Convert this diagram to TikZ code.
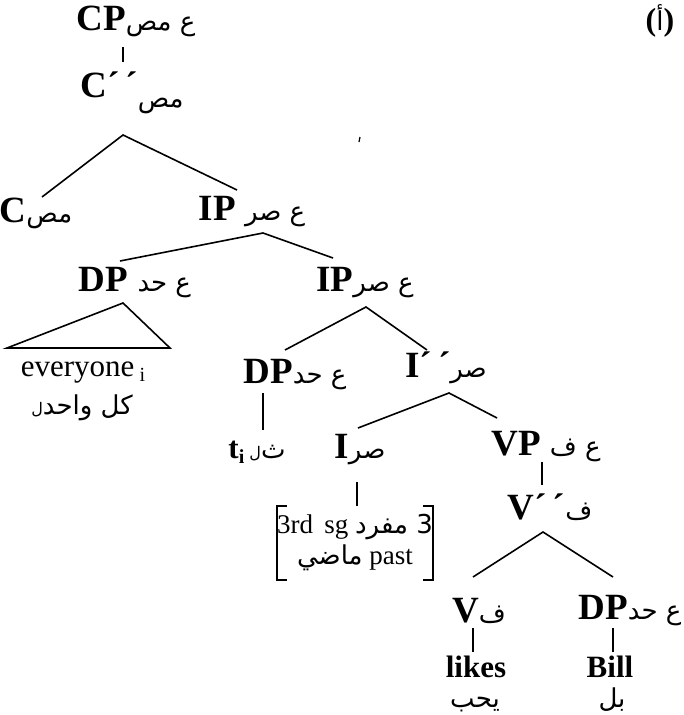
\documentclass[tikz,border=0pt]{standalone}
\usepackage{fontspec}
\setmainfont{Liberation Serif}
\newfontfamily\arabicfont[Script=Arabic]{DejaVu Sans}
\TeXXeTstate=1
\usetikzlibrary{positioning}
\newcommand{\ar}[1]{{\arabicfont\mdseries\fontsize{26}{27}\selectfont\beginR #1\endR}}
\newcommand{\arsub}[1]{\hbox{\arabicfont\mdseries\fontsize{16}{16}\selectfont #1}}
\newcommand{\lowsub}[1]{\raisebox{-5pt}{\fontsize{20}{20}\selectfont #1}}

\begin{document}
\begin{tikzpicture}[
  x=1pt, y=-1pt,
  cat/.style={font=\fontsize{37}{39}\selectfont\bfseries, inner sep=0pt, anchor=center},
  leaf/.style={font=\fontsize{31}{33}\selectfont\bfseries, inner sep=0pt, anchor=center},
  gloss/.style={inner sep=0pt, anchor=base},
  feature/.style={font=\fontsize{27}{31}\selectfont, align=center, inner sep=0pt, minimum width=150pt, minimum height=74pt},
  branch/.style={line width=1.6pt}
]
  \useasboundingbox (0,0) rectangle (683,715);

  % category labels
  \node[cat] (cp) at (136,21) {CP\ar{ع مص}};
  \node[cat] (cbar) at (132,93) {C´\,´\raisebox{-10pt}{\ar{مص}}};
  \node[cat] (c) at (36,213) {C\ar{مص}};
  \node[cat] (ip1) at (252,212) {IP \ar{ع صر}};
  \node[cat] (dp1) at (135,283) {DP \ar{ع حد}};
  \node[cat] (ip2) at (365,283) {IP\ar{ع صر}};
  \node[cat] (dp2) at (295,375) {DP\ar{ع حد}};
  \node[cat] (ibar) at (446,368) {I´\,´\ar{صر}};
  \node[cat] (i) at (360,450) {I\ar{صر}};
  \node[cat] (vp) at (546,447) {VP \ar{ع ف}};
  \node[cat] (vbar) at (550,507) {V´\,´\ar{ف}};
  \node[cat] (v) at (479,611) {V\ar{ف}};
  \node[cat] (dp3) at (630,611) {DP\ar{ع حد}};
  \node[font=\fontsize{32}{34}\selectfont\bfseries, inner sep=0pt] (num) at (660,21) {(\ar{أ})};

  % leaves and glosses
  \node[font=\fontsize{31}{32}\selectfont, inner sep=0pt] (every) at (83,373) {everyone\,\lowsub{i}};
  \node[gloss, anchor=center] (everyg) at (82,408) {\ar{كل واحد\arsub{ل}}};
  \node[leaf] (t) at (257,452) {t\lowsub{i}\,\ar{ث\arsub{ل}}};
  \node[feature] (feat) at (355,543) {3rd\ \,sg\ \ar{3 مفرد}\\ \ar{ماضي} past};
  \node[leaf] (likes) at (476,667) {likes};
  \node[gloss] (likesg) at (475,707) {\ar{يحب}};
  \node[leaf] (bill) at (610,667) {Bill};
  \node[gloss] (billg) at (612,707) {\ar{بل}};

  % branches
  \draw[branch] ([shift={(-13,26)}]cp.center) -- ([shift={(-9,-31)}]cbar.center);
  \draw[branch] ([shift={(6,-16)}]c.center) -- ([shift={(-9,42)}]cbar.center) -- ([shift={(-15,-22)}]ip1.center);
  \draw[branch] ([shift={(-15,-22)}]dp1.center) -- ([shift={(11,21)}]ip1.center) -- ([shift={(-32,-25)}]ip2.center);
  \draw[branch] ([shift={(-10,-25)}]dp2.center) -- ([shift={(1,24)}]ip2.center) -- ([shift={(-19,-18)}]ibar.center);
  \draw[branch] ([shift={(-2,-22)}]i.center) -- ([shift={(3,25)}]ibar.center) -- ([shift={(-49,-29)}]vp.center);
  \draw[branch] ([shift={(-6,-34)}]v.center) -- ([shift={(-7,25)}]vbar.center) -- ([shift={(-17,-34)}]dp3.center);
  \draw[branch] ([shift={(-32,18)}]dp2.center) -- ([shift={(6,-22)}]t.center);
  \draw[branch] ([shift={(-3,32)}]i.center) -- ([xshift=2pt]feat.north);
  \draw[branch] ([shift={(-4,15)}]vp.center) -- ([shift={(-8,-22)}]vbar.center);
  \draw[branch] ([shift={(-6,17)}]v.center) -- ([shift={(-3,-15)}]likes.center);
  \draw[branch] ([shift={(-17,17)}]dp3.center) -- ([shift={(3,-15)}]bill.center);

  % triangle over everyone
  \draw[branch, line join=miter] ([shift={(-12,20)}]dp1.center) -- ([shift={(-76,-25)}]every.center) -- ([shift={(87,-25)}]every.center) -- cycle;

  % brackets round the features
  \draw[branch] ([xshift=10pt]feat.north west) -- (feat.north west) -- (feat.south west) -- ([xshift=10pt]feat.south west);
  \draw[branch] ([xshift=-10pt]feat.north east) -- (feat.north east) -- (feat.south east) -- ([xshift=-10pt]feat.south east);

  % speck
  \draw[line width=1.2pt] (360,137) -- (359,142);
\end{tikzpicture}
\end{document}
